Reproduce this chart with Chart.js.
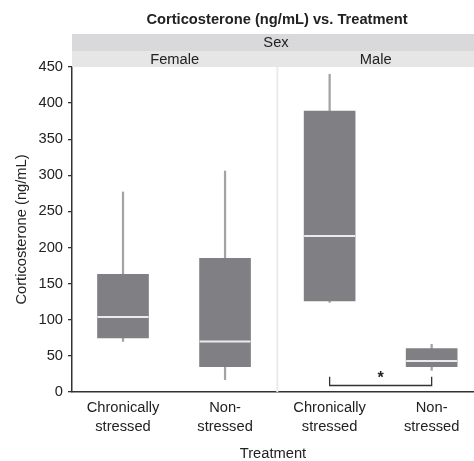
<!DOCTYPE html>
<html>
<head>
<meta charset="utf-8">
<script src="https://cdn.jsdelivr.net/npm/chart.js@4/dist/chart.umd.min.js"></script>
<style>
  html, body { margin: 0; padding: 0; background: #fff; }
  #wrap { width: 474px; height: 461px; }
</style>
</head>
<body>
<div id="wrap"><canvas id="myChart" width="474" height="461"></canvas></div>
<script>
// facet strips and categories
const chartTitle = "Corticosterone (ng/mL) vs. Treatment";
const facetTitle = "Sex";
const sexes = ["Female", "Male"];
const treatments = [["Chronically", "stressed"], ["Non-", "stressed"]];

// box stats, order: F-chronic, F-non, M-chronic, M-non
const whiskerLow = [70, 17, 124, 30];
const q1 = [75, 35, 126, 35];
const median = [104, 70, 216, 43];
const q3 = [163, 185, 389, 60];
const whiskerHigh = [277, 306, 440, 66];

// significance bracket between the two male groups
const bracketTop = 21;
const bracketBase = 9;
const starLabel = "*";

const yTicks = [0, 50, 100, 150, 200, 250, 300, 350, 400, 450];

// x positions: each panel is 2 units wide, small gap between panels
const panelGap = 0.025;
const positions = [];
sexes.forEach((s, p) => {
  treatments.forEach((t, i) => {
    positions.push(p * (2 + panelGap) + i + 0.5);
  });
});
const dividerX = 2 + panelGap / 2;

const boxColor = "#808084";
const whiskerColor = "#a3a3a3";
const textColor = "#222";
const fontFamily = "'Liberation Sans', Arial, sans-serif";
const fontSize = 14.7;

// title, strips, divider line and the star
const facetPlugin = {
  id: "facets",
  beforeDatasetsDraw(chart) {
    const { ctx, chartArea } = chart;
    const x = chart.scales.x;
    const px = x.getPixelForValue(dividerX);
    ctx.save();
    ctx.strokeStyle = "#ebebeb";
    ctx.lineWidth = 2;
    ctx.beginPath();
    ctx.moveTo(px, chartArea.top);
    ctx.lineTo(px, chartArea.bottom);
    ctx.stroke();
    ctx.restore();
  },
  afterDraw(chart) {
    const { ctx, chartArea } = chart;
    const x = chart.scales.x;
    const y = chart.scales.y;
    const right = chart.width;
    const px = x.getPixelForValue(dividerX);
    ctx.save();
    ctx.fillStyle = textColor;
    ctx.textAlign = "center";
    ctx.textBaseline = "middle";
    ctx.font = "bold " + fontSize + "px " + fontFamily;
    ctx.fillText(chartTitle, (chartArea.left + right) / 2 + 4, 20);

    ctx.fillStyle = "#d9d9db";
    ctx.fillRect(chartArea.left, 34, right - chartArea.left, 17);
    ctx.fillStyle = "#e6e6e6";
    ctx.fillRect(chartArea.left, 51, right - chartArea.left, chartArea.top - 51);
    ctx.fillStyle = textColor;
    ctx.font = fontSize + "px " + fontFamily;
    ctx.fillText(facetTitle, (chartArea.left + right) / 2 + 3, 43);
    ctx.fillText(sexes[0], (chartArea.left + px) / 2, 59.5);
    ctx.fillText(sexes[1], (px + right) / 2, 59.5);

    // star above the bracket
    const sx = (x.getPixelForValue(positions[2]) + x.getPixelForValue(positions[3])) / 2;
    ctx.font = "bold 16px " + fontFamily;
    ctx.textBaseline = "alphabetic";
    ctx.fillText(starLabel, sx, y.getPixelForValue(bracketTop) + 6);
    ctx.restore();
  }
};

const ctx = document.getElementById("myChart");

const myChart = new Chart(ctx, {
  type: "bar",
  data: {
    datasets: [
      {
        label: "whiskers",
        data: positions.map((p, i) => ({ x: p, y: [whiskerLow[i], whiskerHigh[i]] })),
        backgroundColor: whiskerColor,
        barThickness: 1.6,
        grouped: false,
        order: 3
      },
      {
        label: "boxes",
        data: positions.map((p, i) => ({ x: p, y: [q1[i], q3[i]] })),
        backgroundColor: boxColor,
        barThickness: 51,
        grouped: false,
        order: 2
      },
      {
        type: "scatter",
        label: "medians",
        data: positions.map((p, i) => ({ x: p, y: median[i] })),
        pointStyle: "line",
        pointRadius: 25.5,
        borderColor: "#ebebeb",
        borderWidth: 2,
        order: 1
      },
      {
        type: "line",
        label: "bracket",
        data: [
          { x: positions[2], y: bracketTop },
          { x: positions[2], y: bracketBase },
          { x: positions[3], y: bracketBase },
          { x: positions[3], y: bracketTop }
        ],
        borderColor: "#333",
        borderWidth: 1.3,
        pointRadius: 0,
        tension: 0,
        fill: false,
        order: 0
      }
    ]
  },
  options: {
    responsive: false,
    animation: false,
    layout: { autoPadding: false, padding: { left: 0, right: 0, top: 67, bottom: 0 } },
    plugins: {
      legend: { display: false },
      tooltip: { enabled: false },
      title: { display: false }
    },
    scales: {
      x: {
        type: "linear",
        offset: false,
        min: 0,
        max: 3.94,
        afterBuildTicks: (scale) => {
          scale.ticks = positions.map((v) => ({ value: v }));
        },
        afterFit: (scale) => {
          scale.height = 69;
          scale.paddingLeft = 0;
          scale.paddingRight = 0;
        },
        ticks: {
          autoSkip: false,
          maxRotation: 0,
          padding: 7,
          color: textColor,
          font: { family: fontFamily, size: fontSize, lineHeight: 1.25 },
          callback: (value, index) => treatments[index % 2]
        },
        grid: { display: false, drawTicks: false, tickLength: 0, offset: false },
        border: { display: true, color: "#333", width: 1.5 },
        title: {
          display: true,
          text: "Treatment",
          color: textColor,
          font: { family: fontFamily, size: fontSize },
          padding: { top: 0, bottom: -2 }
        }
      },
      y: {
        min: 0,
        max: 450,
        afterBuildTicks: (scale) => {
          scale.ticks = yTicks.map((v) => ({ value: v }));
        },
        afterFit: (scale) => {
          scale.width = 72;
          scale.paddingTop = 0;
        },
        ticks: {
          padding: 5,
          color: textColor,
          font: { family: fontFamily, size: fontSize }
        },
        grid: {
          display: true,
          drawOnChartArea: false,
          drawTicks: true,
          tickLength: 4,
          color: "#333",
          lineWidth: 1.3
        },
        border: { display: true, color: "#333", width: 1.5 },
        title: {
          display: true,
          text: "Corticosterone (ng/mL)",
          color: textColor,
          font: { family: fontFamily, size: fontSize },
          padding: { top: 13, bottom: 0 }
        }
      }
    }
  },
  plugins: [facetPlugin]
});
</script>
</body>
</html>
